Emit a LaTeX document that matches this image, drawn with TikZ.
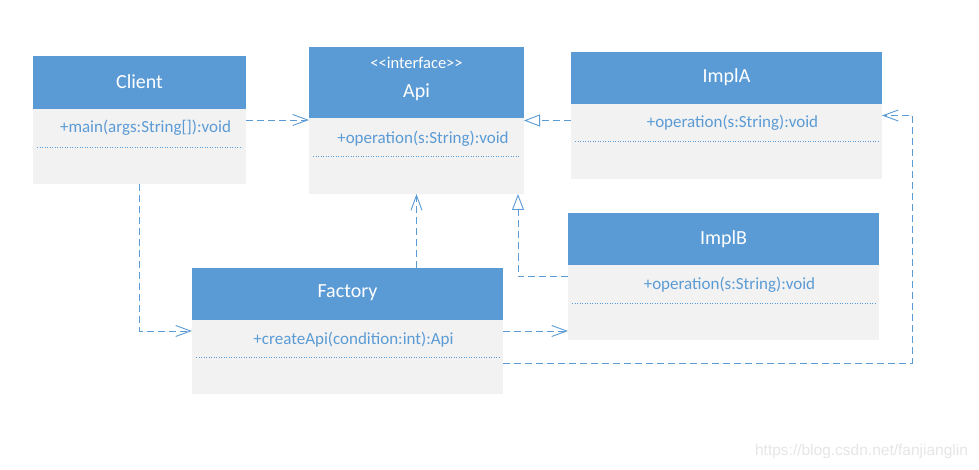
\documentclass[tikz,border=0pt]{standalone}
\usepackage{fontspec}
\setmainfont{Carlito}
\newfontfamily\wmfont{Liberation Sans}
\usetikzlibrary{arrows.meta}
\definecolor{hdr}{HTML}{5B9BD5}
\definecolor{bodyc}{HTML}{F2F2F2}
\definecolor{txt}{HTML}{5B9BD5}
\definecolor{wm}{HTML}{E6E6E6}
\begin{document}
\begin{tikzpicture}[x=1pt,y=-1pt,
  classbox/.style={fill=bodyc, draw=none, inner sep=0pt, outer sep=0pt},
  title/.style={text=white, font=\fontsize{20}{24}\selectfont, inner sep=0pt},
  stereo/.style={text=white, font=\fontsize{16.5}{19}\selectfont, inner sep=0pt},
  method/.style={text=txt, font=\fontsize{17}{20}\selectfont, inner sep=0pt},
  sepline/.style={draw=txt, dotted, line width=0.5pt},
  conn/.style={draw=hdr, line width=0.9pt, dash pattern=on 7pt off 4pt},
  dep/.style={conn, -{Straight Barb[length=15pt,width=11pt]}},
  real/.style={conn, -{Triangle[open,length=16pt,width=12pt]}}]
\useasboundingbox (0,0) rectangle (979,470);
\fill[white] (0,0) rectangle (979,470);

% Client
\node[classbox, minimum width=213pt, minimum height=128pt] (client) at (139.5,120) {};
\fill[hdr] (client.north west) rectangle ([yshift=-53pt]client.north east);
\node[title] (clientT) at (139.5,82) {Client};
\node[method] (clientM) at (145.5,128) {+main(args:String[]):void};
\draw[sepline] (37,147) -- (242,147);

% Api
\node[classbox, minimum width=215pt, minimum height=147pt] (api) at (416.5,120.5) {};
\fill[hdr] (api.north west) rectangle ([yshift=-71pt]api.north east);
\node[stereo] (apiS) at (416.5,63) {<\kern0pt<\kern0pt interface>\kern0pt>};
\node[title] (apiT) at (416.5,92) {Api};
\node[method] (apiM) at (423,139) {+operation(s:String):void};
\draw[sepline] (313,156) -- (520,156);

% ImplA
\node[classbox, minimum width=311pt, minimum height=127pt] (implA) at (726.5,115.5) {};
\fill[hdr] (implA.north west) rectangle ([yshift=-52pt]implA.north east);
\node[title] (implAT) at (726.5,77) {ImplA};
\node[method] (implAM) at (732.5,123) {+operation(s:String):void};
\draw[sepline] (575,141) -- (878,141);

% ImplB
\node[classbox, minimum width=311pt, minimum height=127pt] (implB) at (723.5,276.5) {};
\fill[hdr] (implB.north west) rectangle ([yshift=-52pt]implB.north east);
\node[title] (implBT) at (723.5,239) {ImplB};
\node[method] (implBM) at (729.5,285) {+operation(s:String):void};
\draw[sepline] (572,303) -- (875,303);

% Factory
\node[classbox, minimum width=311pt, minimum height=126pt] (factory) at (347.5,331) {};
\fill[hdr] (factory.north west) rectangle ([yshift=-52pt]factory.north east);
\node[title] (factoryT) at (347.5,293) {Factory};
\node[method] (factoryM) at (353.5,340) {+createApi(condition:int):Api};
\draw[sepline] (196,357) -- (499,357);

% Connectors
\draw[dep] (client.east) -- (client.east -| api.west);
\draw[real] (implA.west |- api.east) -- (api.east);
\draw[dep] (factory.north -| api.south) -- (api.south);
\draw[real] (implB.west) -| ([xshift=-6pt]api.south east);
\draw[dep] (client.south) |- (factory.west);
\draw[dep] (factory.east) -- (factory.east -| implB.west);
\draw[dep] ([yshift=-32pt]factory.east) -| ([xshift=30pt]implA.east) -- (implA.east);

% watermark
\node[text=wm, font=\wmfont\fontsize{15.5}{18}\selectfont, inner sep=0pt] (wmark) at (861.5,451) {https://blog.csdn.net/fanjianglin};
\end{tikzpicture}
\end{document}
